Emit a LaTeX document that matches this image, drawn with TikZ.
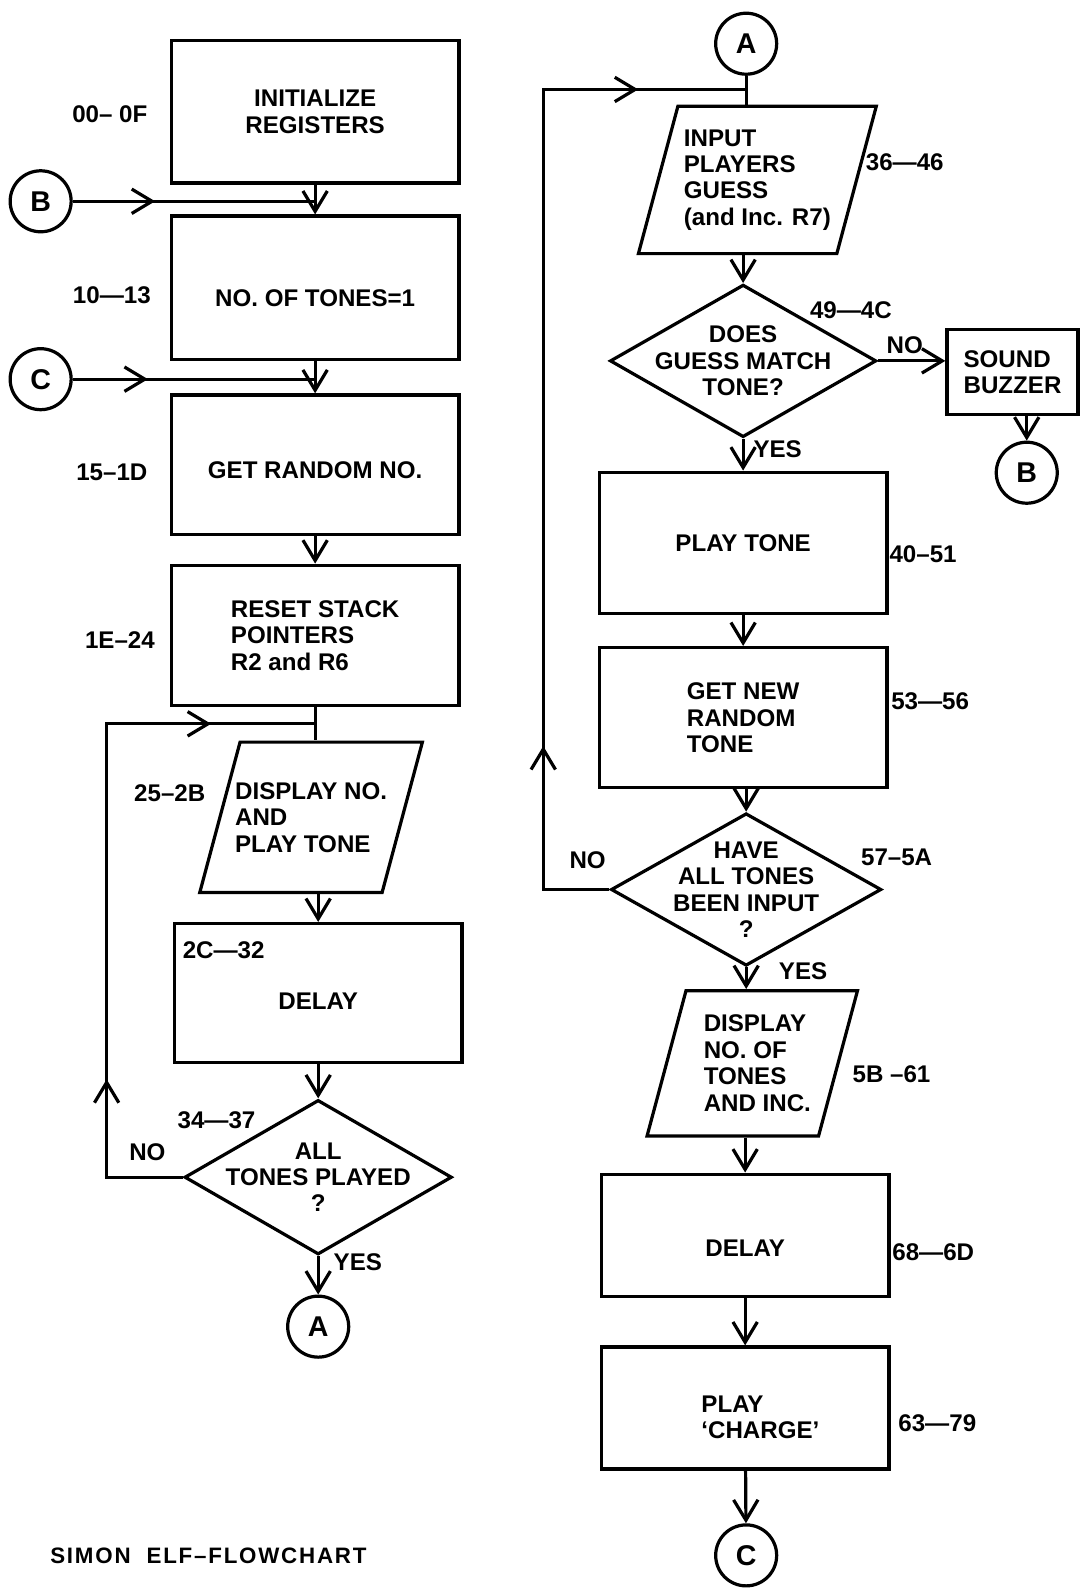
\documentclass[tikz,border=0pt]{standalone}
\usepackage{fontspec}
\setmainfont{Liberation Sans}
\newfontfamily\titlefont{Liberation Sans}[LetterSpace=8, Ligatures=TeX]
\usepackage{tikz}
\usetikzlibrary{shapes.geometric, arrows.meta, decorations.markings, positioning}
\tikzstyle{flow} = [line width=1.8pt]
\tikzstyle{arrow} = [flow, ->]
\tikzstyle{process} = [rectangle, draw, line width=1.8pt, minimum width=56.6mm, align=center]
\tikzstyle{io} = [trapezium, trapezium left angle=75, trapezium right angle=105, trapezium stretches body, draw, line width=1.8pt, inner xsep=0pt]
\tikzstyle{decision} = [diamond, draw, line width=1.8pt, inner sep=0pt]
\tikzstyle{connector} = [circle, draw, line width=1.8pt, minimum size=12mm, inner sep=0pt, font=\bfseries\fontsize{16}{18}\selectfont]
\tikzset{midarrow/.style={postaction={decorate, decoration={markings, mark=at position #1 with {\arrow{>}}}}}}

\begin{document}
\begin{tikzpicture}[x=0.2mm, y=-0.2mm, >={Straight Barb[length=4mm,width=4.8mm]},
	every node/.style={font=\bfseries\fontsize{13.5}{14.8}\selectfont}]
	\useasboundingbox (0,0) rectangle (1063,1568);
	% left column
	\node[process, minimum height=28mm]    (init)    at (310,110)  {INITIALIZE\\REGISTERS};
	\node[process, minimum height=28.2mm, text height=7.4mm] (tones) at (310,283) {NO. OF TONES=1};
	\node[process, minimum height=27.4mm, text height=5.4mm] (rand)  at (310,457) {GET RANDOM NO.};
	\node[process, minimum height=27.6mm, align=left] (reset) at (310,625) {RESET STACK\\POINTERS\\R2 and R6};
	\node[io, minimum width=43.8mm, inner ysep=14.8mm,
		label={[align=left]center:{DISPLAY NO.\\AND\\PLAY TONE}}] (show) at (306,804) {};
	\node[process, minimum height=27.4mm, text height=6.6mm] (delayA) at (313,977) {DELAY};
	\node[decision, minimum width=52.6mm, minimum height=30.4mm,
		label={[align=center]center:{ALL\\TONES PLAYED\\?}}] (allplayed) at (313,1158) {};
	\node[connector] (aL) at (313,1305) {A};
	\node[connector] (bL) at (40,198)   {B};
	\node[connector] (cL) at (40,373)   {C};
	\coordinate (jL) at (310,712);
	% right column
	\node[connector] (aR) at (734,43) {A};
	\node[io, minimum width=46.8mm, inner ysep=14.5mm,
		label={[align=left]center:{INPUT\\PLAYERS\\GUESS\\(and Inc. R7)}}] (guess) at (745,177) {};
	\node[decision, minimum width=52.4mm, minimum height=30mm,
		label={[align=center]center:{DOES\\GUESS MATCH\\TONE?}}] (match) at (731,355) {};
	\node[process, minimum width=25.8mm, minimum height=16.6mm, align=left] (buzz) at (996,366) {SOUND\\BUZZER};
	\node[connector] (bR) at (1010,465) {B};
	\node[process, minimum height=27.8mm]  (play)    at (731,534)  {PLAY TONE};
	\node[process, minimum height=27.6mm, align=left] (newtone) at (731,706) {GET NEW\\RANDOM\\TONE};
	\node[decision, minimum width=53.2mm, minimum height=30mm,
		label={[align=center]center:{HAVE\\ALL TONES\\BEEN INPUT\\?}}] (allin) at (734,875) {};
	\node[io, minimum width=41.4mm, inner ysep=14.3mm,
		label={[align=left, xshift=1mm]center:{DISPLAY\\NO. OF\\TONES\\AND INC.}}] (count) at (740,1046) {};
	\node[process, minimum height=24mm, text height=8.2mm] (delayB) at (733,1215) {DELAY};
	\node[process, minimum height=24mm,
		label={[align=left, xshift=3mm, yshift=-1.8mm]center:{PLAY\\`CHARGE'}}] (charge) at (733,1385) {};
	\node[connector] (cR) at (734,1530) {C};
	\coordinate (jR) at (734,88);
	% addresses
	\node (a00) at (108,112)  {00-- 0F};
	\node (a10) at (110,290)  {10---13};
	\node (a15) at (110,465)  {15--1D};
	\node (a1E) at (118,630)  {1E--24};
	\node (a25) at (167,780)  {25--2B};
	\node (a2C) at (220,935)  {2C---32};
	\node (a34) at (213,1102) {34---37};
	\node (a36) at (890,160)  {36---46};
	\node (a49) at (837,305)  {49---4C};
	\node (a40) at (908,545)  {40--51};
	\node (a53) at (915,690)  {53---56};
	\node (a57) at (882,843)  {57--5A};
	\node (a5B) at (877,1057) {5B --61};
	\node (a68) at (918,1232) {68---6D};
	\node (a63) at (922,1400) {63---79};
	% branch labels
	\node (noL)   at (145,1133) {NO};
	\node (yesL)  at (352,1242) {YES};
	\node (noM)   at (890,340)  {NO};
	\node (yesM)  at (765,442)  {YES};
	\node (noR)   at (578,846)  {NO};
	\node (yesR)  at (790,955)  {YES};
	\node[font=\titlefont\bfseries\fontsize{12.5}{14}\selectfont] (title) at (205,1530) {SIMON\ \ ELF--FLOWCHART};
	% connectors
	\draw[arrow] (init) -- (tones);
	\draw[flow, midarrow=0.34] (bL) -- (bL -| tones.north);
	\draw[arrow] (tones) -- (rand);
	\draw[flow, midarrow=0.31] (cL) -- (cL -| rand.north);
	\draw[arrow] (rand) -- (reset);
	\draw[flow] (reset.south) -- (reset.south |- show.north);
	\draw[arrow] (delayA.north |- show.south) -- (delayA.north);
	\draw[arrow] (delayA) -- (allplayed);
	\draw[arrow] (allplayed) -- (aL);
	\draw[flow, midarrow=0.236, midarrow=0.859] (allplayed.west) -- ++(-75,0) |- (jL);
	\draw[flow] (aR) -- (aR |- guess.north);
	\draw[arrow] (guess.south -| match) -- (match);
	\draw[arrow] (match.east) -- (match.east -| buzz.west);
	\draw[arrow] (buzz.south -| bR) -- (bR);
	\draw[arrow] (match) -- (play);
	\draw[arrow] (play) -- (newtone);
	\draw[arrow] (newtone.south -| allin) -- (allin);
	\draw[arrow] (allin) -- (allin |- count.north);
	\draw[flow, midarrow=0.196, midarrow=0.899] (allin.west) -- ++(-65,0) |- (jR);
	\draw[arrow] (delayB.north |- count.south) -- (delayB.north);
	\draw[arrow] (delayB) -- (charge);
	\draw[arrow] (charge) -- (cR);
\end{tikzpicture}
\end{document}
